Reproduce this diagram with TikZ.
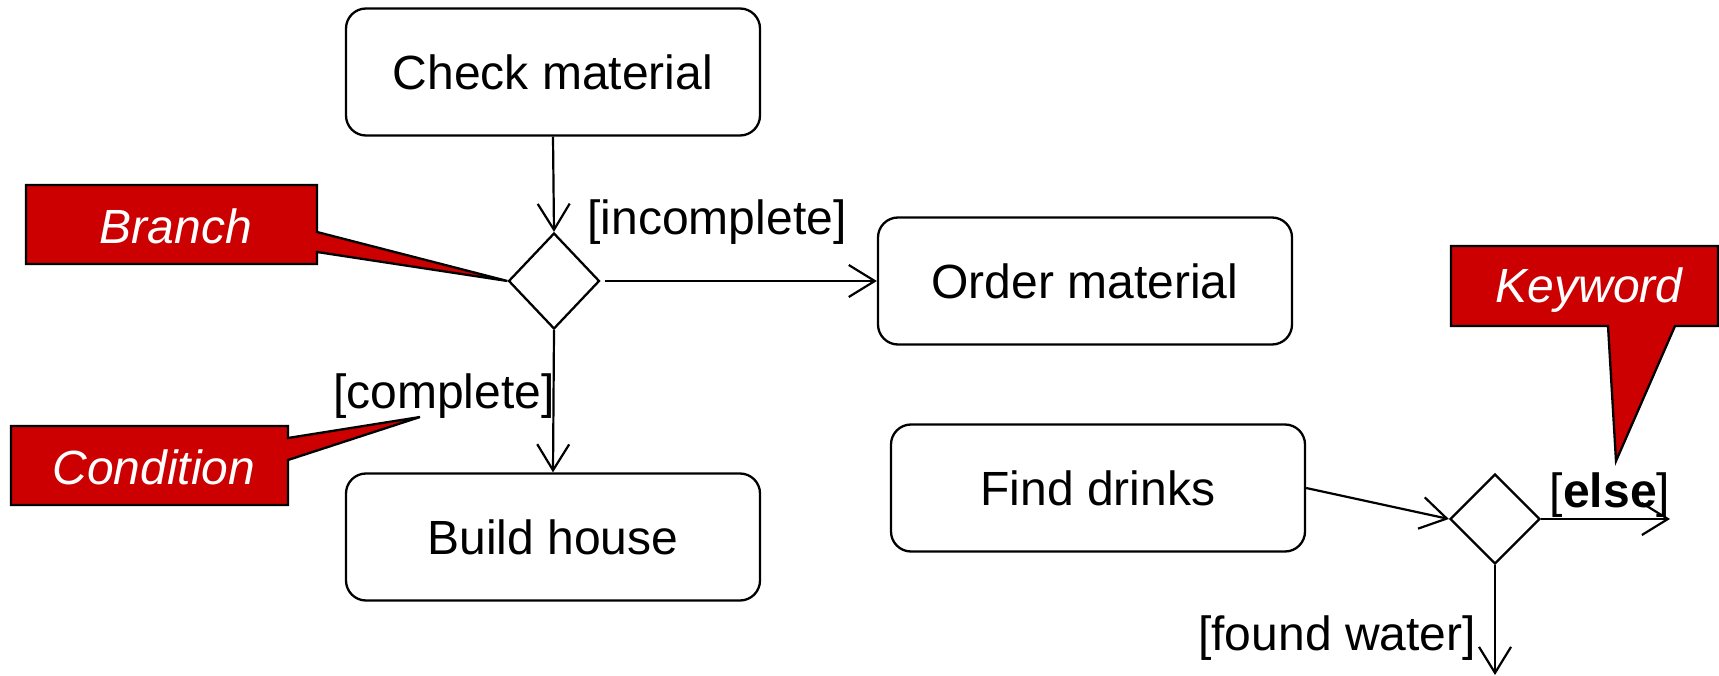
\documentclass[tikz,border=0pt]{standalone}
\usepackage{fontspec}
\setmainfont{Liberation Sans}
\usetikzlibrary{shapes.geometric,arrows.meta}
\definecolor{callred}{RGB}{204,0,0}
\begin{document}
\begin{tikzpicture}[x=1pt,y=-1pt,
  every node/.style={font=\fontsize{48}{56}\selectfont},
  actbox/.style={draw, line width=2.3pt, rounded corners=20pt, minimum width=414pt, minimum height=127pt, inner sep=0pt},
  decision/.style={draw, diamond, line width=2.3pt, inner sep=0pt},
  flow/.style={line width=2.2pt, -{Straight Barb[length=26pt,width=32pt,line width=2.2pt]}},
  guard/.style={inner sep=0pt},
  callout/.style={fill=callred, draw=black, line width=2.3pt, line join=miter},
  callouttext/.style={text=white, inner sep=0pt, font=\fontsize{48}{56}\selectfont\itshape}]
\useasboundingbox (0,0) rectangle (1719,676);

% activities
\node[actbox] (cm) at (553,72) {Check material};
\node[actbox] (om) at (1085,281) {Order material};
\node[actbox] (bh) at (553,537) {Build house};
\node[actbox] (fd) at (1098,488) {Find drinks};

% decisions
\node[decision, minimum width=91pt, minimum height=96pt] (d1) at (554,281) {};
\node[decision, minimum width=90pt, minimum height=90pt] (d2) at (1495,519) {};

\coordinate (elseend) at (1670,519);
\coordinate (waterend) at (1495,675);

% flows
\draw[flow] (cm.south) -- (d1.north);
\draw[flow, shorten <=4pt] (d1.east) -- (om.west);
\draw[flow] (d1.south) -- (bh.north);
\draw[flow] (fd.east) -- (d2.west);
\draw[flow] (d2.east) -- (elseend);
\draw[flow] (d2.south) -- (waterend);

% guards
\node[guard] (ginc) at (717,222) {[incomplete]};
\node[guard] (gcomp) at (444,396) {[complete]};
\node[guard] (gelse) at (1610,495) {[\textbf{else}]};
\node[guard] (gfw) at (1337,638) {[found water]};

% callouts
\draw[callout] (26,185) -- (317,185) -- (317,232) -- (d1.west) -- (317,252) -- (317,264) -- (26,264) -- cycle;
\node[callouttext] (branch) at (176,226) {Branch};

\draw[callout] (11,426) -- (288,426) -- (288,438) -- (420,417) -- (288,460) -- (288,505) -- (11,505) -- cycle;
\node[callouttext] (condition) at (154,467) {Condition};

\draw[callout] (1451,246) -- (1718,246) -- (1718,326) -- (1675,326) -- (1616,461) -- (1608,326) -- (1451,326) -- cycle;
\node[callouttext] (keyword) at (1589,290) {Keyword};
\end{tikzpicture}
\end{document}
